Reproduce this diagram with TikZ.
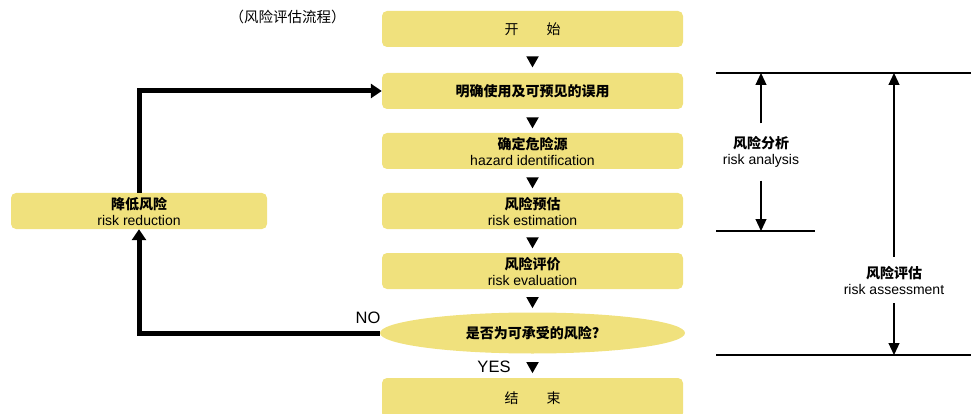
\documentclass[tikz,border=0pt]{standalone}
\usepackage{fontspec}
\setmainfont{Liberation Sans}
\newfontfamily\cjk{Noto Sans CJK SC}
\usetikzlibrary{arrows.meta,shapes.geometric}
\definecolor{boxyellow}{RGB}{240,225,125}
\newcommand{\zh}[1]{{\cjk\bfseries #1}}
\newcommand{\zhr}[1]{{\cjk #1}}
\tikzset{
  stepbox/.style={rectangle, rounded corners=5pt, fill=boxyellow, minimum width=301pt, minimum height=36pt, inner sep=0pt, align=center, font=\fontsize{14}{16}\selectfont},
  decbox/.style={ellipse, fill=boxyellow, minimum width=305pt, minimum height=41pt, inner sep=0pt, font=\fontsize{14}{16}\selectfont},
  tri/.style={isosceles triangle, isosceles triangle stretches, shape border rotate=-90, fill=black, inner sep=0pt, minimum width=12.5pt, minimum height=11pt},
  thickarrow/.style={line width=5pt, -{Triangle[width=14pt,length=11pt]}},
  thinarrow/.style={line width=1.2pt, -{Triangle[width=11pt,length=12pt]}},
  rule/.style={line width=1.2pt},
  sidelabel/.style={align=center, inner xsep=0pt, font=\fontsize{14}{16}\selectfont},
  yesno/.style={font=\fontsize{16.5}{18}\selectfont, inner sep=0pt},
  titlestyle/.style={font=\fontsize{14.5}{16}\selectfont, inner sep=0pt}
}
\begin{document}
\begin{tikzpicture}[x=1pt,y=-1pt]
\useasboundingbox (0,0) rectangle (971,414);
\node[titlestyle] (title) at (287.5,17) {\zhr{（风险评估流程）}};
\node[stepbox] (s) at (532.5,29) {\zhr{开　　始}};
\node[stepbox] (b2) at (532.5,91) {\zh{明确使用及可预见的误用}};
\node[stepbox] (b3) at (532.5,151) {\zh{确定危险源}\\hazard identification};
\node[stepbox] (b4) at (532.5,211) {\zh{风险预估}\\risk estimation};
\node[stepbox] (b5) at (532.5,271) {\zh{风险评价}\\risk evaluation};
\node[decbox] (d) at (532.5,333) {\zh{是否为可承受的风险?}};
\node[stepbox, minimum height=40pt] (e) at (532.5,398) {\zhr{结　　束}};
\node[stepbox, minimum width=256pt] (r) at (139,211) {\zh{降低风险}\\risk reduction};

\path (s) -- node[tri]{} (b2);
\path (b2) -- node[tri]{} (b3);
\path (b3) -- node[tri]{} (b4);
\path (b4) -- node[tri]{} (b5);
\path (b5) -- node[tri]{} (d);
\path (d) -- node[tri]{} (e);

\node[yesno] (no) at (368,318) {NO};
\node[yesno] (yes) at (494,367) {YES};

\draw[thickarrow] (d.west) -| (r.south);
\draw[thickarrow] (r.north) |- (b2.west);

\coordinate (l1a) at (716,73);
\coordinate (l1b) at (971,73);
\coordinate (l2a) at (716,231);
\coordinate (l2b) at (815,231);
\coordinate (l3a) at (716,355);
\coordinate (l3b) at (971,355);
\draw[rule] (l1a) -- (l1b);
\draw[rule] (l2a) -- (l2b);
\draw[rule] (l3a) -- (l3b);

\coordinate (ratop) at (761,73);
\coordinate (rabot) at (761,231);
\node[sidelabel, inner ysep=13pt] (ra) at (761,152) {\zh{风险分析}\\risk analysis};
\draw[thinarrow] (ra.north) -- (ratop);
\draw[thinarrow] (ra.south) -- (rabot);

\coordinate (astop) at (894,73);
\coordinate (asbot) at (894,355);
\node[sidelabel, inner ysep=9pt] (as) at (894,280) {\zh{风险评估}\\risk assessment};
\draw[thinarrow] (as.north) -- (astop);
\draw[thinarrow] (as.south) -- (asbot);
\end{tikzpicture}
\end{document}
